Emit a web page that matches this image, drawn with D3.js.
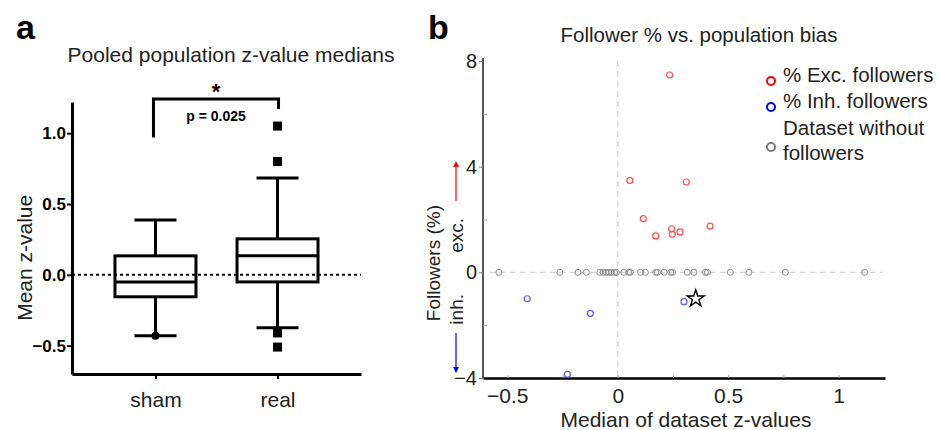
<!DOCTYPE html>
<html>
<head>
<meta charset="utf-8">
<title>Pooled z-values and follower bias</title>
<script src="https://d3js.org/d3.v7.min.js"></script>
<style>
  body { margin: 0; background: #fff; }
  svg { font-family: Arial, "Liberation Sans", sans-serif; }
</style>
</head>
<body>
<div id="chart"></div>
<script>
// ---- panel a data (box plot summaries) ----
var groups = ["sham", "real"];
var q1 = [-0.155, -0.05];
var medians = [-0.05, 0.134];
var q3 = [0.134, 0.254];
var whiskLo = [-0.43, -0.373];
var whiskHi = [0.387, 0.683];
var shamOutliers = [-0.43];
var realOutliers = [1.05, 0.80, -0.41, -0.51];
var zTicks = [-0.5, 0, 0.5, 1.0];

// ---- panel b data ----
var excX = [0.235, 0.055, 0.31, 0.116, 0.172, 0.244, 0.247, 0.282, 0.418];
var excY = [7.47, 3.48, 3.42, 2.03, 1.38, 1.65, 1.44, 1.53, 1.75];
var inhX = [-0.41, -0.124, -0.228, 0.30];
var inhY = [-1.0, -1.55, -3.86, -1.11];
var noneX = [-0.538, -0.262, -0.18, -0.142, -0.081, -0.066, -0.052, -0.04, -0.029,
             -0.015, -0.006, 0.027, 0.05, 0.057, 0.103, 0.125, 0.172, 0.18, 0.21,
             0.24, 0.248, 0.315, 0.345, 0.397, 0.406, 0.51, 0.594, 0.759, 1.118];
var starPoint = [0.353, -1.0];
var followerTicks = [-4, 0, 4, 8];
var followerMinor = [-2, 2, 6];
var biasTicks = [-0.5, 0, 0.5, 1];
var biasMinor = [-0.25, 0.25, 0.75];

var svg = d3.select("#chart").append("svg")
    .attr("width", 951).attr("height", 430);

// =================== panel a ===================
var ya = d3.scaleLinear().domain([-0.7, 1.22]).range([374, 102]);
var xa = d3.scalePoint().domain(groups).range([72, 361]).padding(0.684);
var boxW = 81, capW = 42;

svg.append("text").attr("x", 16).attr("y", 39)
    .style("font-size", "34px").style("font-weight", "bold").text("a");
svg.append("text").attr("x", 231).attr("y", 62).attr("text-anchor", "middle")
    .style("font-size", "21px").attr("fill", "#222").text("Pooled population z-value medians");

// y axis
var gya = svg.append("g").attr("transform", "translate(72,0)")
    .call(d3.axisLeft(ya).tickValues(zTicks).tickSize(5).tickSizeOuter(0)
        .tickFormat(d3.format(".1f")));
gya.select(".domain").attr("stroke-width", 3);
gya.selectAll(".tick line").attr("stroke-width", 2);
gya.selectAll(".tick text").style("font-size", "17px").style("font-weight", "bold")
    .attr("x", -6);

// x axis
var gxa = svg.append("g").attr("transform", "translate(0,374)")
    .call(d3.axisBottom(xa).tickSize(5).tickSizeOuter(0));
gxa.select(".domain").attr("stroke-width", 3);
gxa.selectAll(".tick text").style("font-size", "21px").attr("fill", "#222")
    .attr("y", 0).attr("dy", "1.55em");
gxa.selectAll(".tick line").attr("stroke-width", 2);

svg.append("text")
    .attr("transform", "translate(32," + ya(0.12) + ") rotate(-90)")
    .attr("text-anchor", "middle").style("font-size", "21px").attr("fill", "#222")
    .text("Mean z-value");

// zero dotted line
svg.append("line").attr("x1", 72).attr("x2", 361)
    .attr("y1", ya(0)).attr("y2", ya(0))
    .attr("stroke", "#000").attr("stroke-width", 2).attr("stroke-dasharray", "3,3");

groups.forEach(function (g, i) {
    var cx = xa(g);
    var bg = svg.append("g").attr("stroke", "#000").attr("stroke-width", 3);
    // whiskers
    bg.append("line").attr("x1", cx).attr("x2", cx).attr("y1", ya(whiskHi[i])).attr("y2", ya(q3[i]));
    bg.append("line").attr("x1", cx).attr("x2", cx).attr("y1", ya(q1[i])).attr("y2", ya(whiskLo[i]));
    bg.append("line").attr("x1", cx - capW / 2).attr("x2", cx + capW / 2)
        .attr("y1", ya(whiskHi[i])).attr("y2", ya(whiskHi[i]));
    bg.append("line").attr("x1", cx - capW / 2).attr("x2", cx + capW / 2)
        .attr("y1", ya(whiskLo[i])).attr("y2", ya(whiskLo[i]));
    // box
    bg.append("rect").attr("x", cx - boxW / 2).attr("width", boxW)
        .attr("y", ya(q3[i])).attr("height", ya(q1[i]) - ya(q3[i]))
        .attr("fill", "none");
    bg.append("line").attr("x1", cx - boxW / 2).attr("x2", cx + boxW / 2)
        .attr("y1", ya(medians[i])).attr("y2", ya(medians[i]));
});

svg.selectAll(".shamOut").data(shamOutliers).enter().append("circle")
    .attr("cx", xa("sham")).attr("cy", function (d) { return ya(d); })
    .attr("r", 4).attr("fill", "#000");
svg.selectAll(".realOut").data(realOutliers).enter().append("rect")
    .attr("x", xa("real") - 4.5).attr("y", function (d) { return ya(d) - 4.5; })
    .attr("width", 9).attr("height", 9).attr("fill", "#000");

// significance bracket
var bx1 = xa("sham") - 2, bx2 = xa("real") + 1;
svg.append("path")
    .attr("d", "M" + bx1 + "," + ya(0.97) + "V99H" + bx2 + "V" + ya(1.17))
    .attr("fill", "none").attr("stroke", "#000").attr("stroke-width", 3);
svg.append("text").attr("x", (bx1 + bx2) / 2).attr("y", 99).attr("text-anchor", "middle")
    .style("font-size", "22px").style("font-weight", "bold").text("*");
svg.append("text").attr("x", (bx1 + bx2) / 2).attr("y", 121).attr("text-anchor", "middle")
    .style("font-size", "14px").style("font-weight", "bold").text("p = 0.025");

// =================== panel b ===================
var xb = d3.scaleLinear().domain([-0.61, 1.21]).range([483, 885]);
var yb = d3.scaleLinear().domain([-4, 8]).range([378, 61]);

svg.append("text").attr("x", 428).attr("y", 39)
    .style("font-size", "34px").style("font-weight", "bold").text("b");
svg.append("text").attr("x", 699).attr("y", 42).attr("text-anchor", "middle")
    .style("font-size", "20.5px").attr("fill", "#222").text("Follower % vs. population bias");

// reference dashed lines
svg.append("line").attr("x1", xb(0)).attr("x2", xb(0)).attr("y1", yb(8)).attr("y2", yb(-4))
    .attr("stroke", "#ccc").attr("stroke-width", 1).attr("stroke-dasharray", "6,4");
svg.append("line").attr("x1", xb(-0.58)).attr("x2", xb(1.2)).attr("y1", yb(0)).attr("y2", yb(0))
    .attr("stroke", "#ccc").attr("stroke-width", 1).attr("stroke-dasharray", "6,4");

// y axis
var gyb = svg.append("g").attr("transform", "translate(483,0)")
    .call(d3.axisLeft(yb).tickValues(followerTicks).tickSize(4).tickSizeOuter(0)
        .tickFormat(d3.format("d")));
gyb.select(".domain").attr("stroke", "#555").attr("stroke-width", 2)
    .attr("d", "M0," + (yb(8) - 3) + "V" + yb(-4));
gyb.selectAll(".tick line").attr("stroke", "#777");
gyb.selectAll(".tick text").style("font-size", "20px").attr("fill", "#222").attr("x", -6);
svg.append("g").attr("transform", "translate(483,0)")
    .call(d3.axisRight(yb).tickValues(followerMinor).tickSize(4).tickFormat(""))
    .call(function (g) { g.select(".domain").remove(); g.selectAll("line").attr("stroke", "#aaa"); });

// x axis
var gxb = svg.append("g").attr("transform", "translate(0,378)")
    .call(d3.axisBottom(xb).tickValues(biasTicks).tickSize(0).tickSizeOuter(0)
        .tickFormat(function (d) { return d === 0 || d === 1 ? d3.format("d")(d) : d3.format(".1f")(d); }));
gxb.select(".domain").attr("stroke", "#000").attr("stroke-width", 2.5);
gxb.selectAll(".tick text").style("font-size", "21px").attr("fill", "#222")
    .attr("y", 0).attr("dy", "1.2em");
svg.append("g").attr("transform", "translate(0,378)")
    .call(d3.axisTop(xb).tickValues(biasTicks.concat(biasMinor)).tickSize(3).tickFormat(""))
    .call(function (g) { g.select(".domain").remove(); g.selectAll("line").attr("stroke", "#aaa"); });

svg.append("text").attr("x", 686).attr("y", 427).attr("text-anchor", "middle")
    .style("font-size", "21px").attr("fill", "#222").text("Median of dataset z-values");

// y label with arrows
svg.append("text").attr("transform", "translate(440," + yb(0.35) + ") rotate(-90)")
    .attr("text-anchor", "middle").style("font-size", "19px").attr("fill", "#222")
    .text("Followers (%)");
svg.append("text").attr("transform", "translate(463," + yb(1.4) + ") rotate(-90)")
    .attr("text-anchor", "middle").style("font-size", "19px").attr("fill", "#222").text("exc.");
svg.append("text").attr("transform", "translate(463," + yb(-1.4) + ") rotate(-90)")
    .attr("text-anchor", "middle").style("font-size", "19px").attr("fill", "#222").text("inh.");
var defs = svg.append("defs");
[["arrRed", "#f00"], ["arrBlue", "#00f"]].forEach(function (a) {
    defs.append("marker").attr("id", a[0]).attr("viewBox", "0 0 10 10")
        .attr("refX", 5).attr("refY", 5).attr("markerWidth", 5).attr("markerHeight", 5)
        .attr("orient", "auto-start-reverse")
        .append("path").attr("d", "M0,0L10,5L0,10Z").attr("fill", a[1]);
});
svg.append("line").attr("x1", 456).attr("x2", 456).attr("y1", yb(2.7)).attr("y2", yb(4.1))
    .attr("stroke", "#f00").attr("stroke-width", 1.2).attr("marker-end", "url(#arrRed)");
svg.append("line").attr("x1", 456).attr("x2", 456).attr("y1", yb(-2.3)).attr("y2", yb(-3.7))
    .attr("stroke", "#00f").attr("stroke-width", 1.2).attr("marker-end", "url(#arrBlue)");

// points
svg.selectAll(".none").data(noneX).enter().append("circle")
    .attr("cx", function (d) { return xb(d); }).attr("cy", yb(0)).attr("r", 3)
    .attr("fill", "none").attr("stroke", "#888").attr("stroke-width", 1);
svg.selectAll(".exc").data(excX).enter().append("circle")
    .attr("cx", function (d) { return xb(d); })
    .attr("cy", function (d, i) { return yb(excY[i]); }).attr("r", 3)
    .attr("fill", "none").attr("stroke", "#ff5050").attr("stroke-width", 1.2);
svg.selectAll(".inh").data(inhX).enter().append("circle")
    .attr("cx", function (d) { return xb(d); })
    .attr("cy", function (d, i) { return yb(inhY[i]); }).attr("r", 3)
    .attr("fill", "none").attr("stroke", "#5a5aff").attr("stroke-width", 1.2);
svg.append("path").attr("d", d3.symbol(d3.symbolStar, 90)())
    .attr("transform", "translate(" + xb(starPoint[0]) + "," + yb(starPoint[1]) + ")")
    .attr("fill", "none").attr("stroke", "#000").attr("stroke-width", 1.4);

// legend
var legend = [
    { c: "#ff0000", y: 81, lines: ["% Exc. followers"] },
    { c: "#0000ff", y: 107, lines: ["% Inh. followers"] },
    { c: "#777", y: 147, lines: ["Dataset without", "followers"] }
];
legend.forEach(function (l) {
    svg.append("circle").attr("cx", 771).attr("cy", l.y).attr("r", 4)
        .attr("fill", "none").attr("stroke", l.c).attr("stroke-width", 2);
    l.lines.forEach(function (t, k) {
        var ty = l.lines.length === 1 ? l.y - 6 : l.y - 19 + k * 25;
        svg.append("text").attr("x", 783).attr("y", ty).attr("dy", "0.35em")
            .style("font-size", "20.5px").attr("fill", "#222").text(t);
    });
});
</script>
</body>
</html>
